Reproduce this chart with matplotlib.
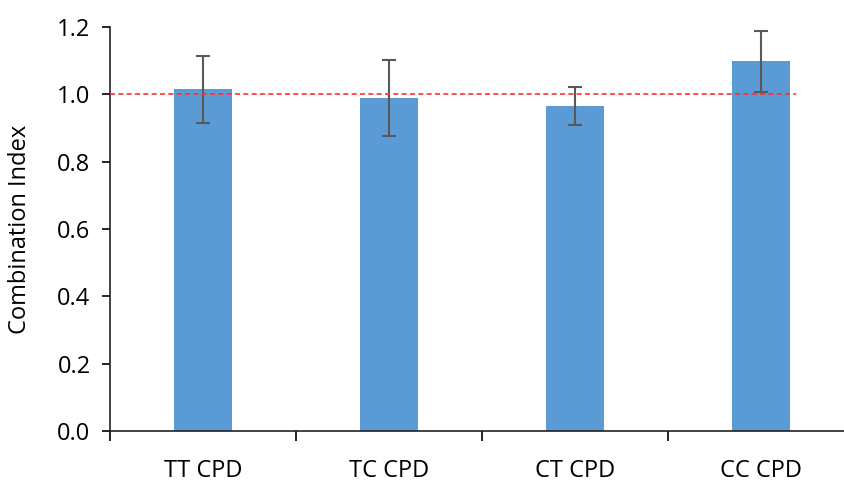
import matplotlib.pyplot as plt
import numpy as np

categories = ["TT CPD", "TC CPD", "CT CPD", "CC CPD"]
ci_values = [1.015, 0.990, 0.965, 1.098]
ci_errors = [0.100, 0.113, 0.056, 0.091]
reference_ci = 1.0
y_ticks = [0.0, 0.2, 0.4, 0.6, 0.8, 1.0, 1.2]

plt.rcParams['font.family'] = ['Open Sans', 'DejaVu Sans']

fig = plt.figure(figsize=(8.45, 4.82), dpi=100)
ax = fig.add_axes([110 / 845, 51 / 482, 744 / 845, 404 / 482])

x = np.arange(len(categories))
ax.bar(x, ci_values, width=0.315, color="#5B9BD5", zorder=2)
ax.errorbar(x, ci_values, yerr=ci_errors, fmt="none", ecolor="#595959",
            elinewidth=1.5, capsize=5, capthick=1.5, zorder=3)

# reference line at CI = 1
ax.plot([-0.5, 3.19], [reference_ci, reference_ci], color="#FF3030",
        linestyle=(0, (3, 2)), linewidth=1.2, zorder=4)

ax.set_xlim(-0.5, len(categories) - 0.5)
ax.set_ylim(0, 1.2)
ax.set_yticks(y_ticks)
ax.set_yticklabels([f"{t:.1f}" for t in y_ticks], fontsize=17)

# category labels between boundary ticks
ax.set_xticks(np.arange(-0.5, len(categories), 1.0))
ax.set_xticklabels([])
ax.set_xticks(x, minor=True)
ax.set_xticklabels(categories, minor=True, fontsize=17)
ax.tick_params(axis="x", which="minor", length=0, pad=20)
ax.tick_params(axis="x", which="major", length=7, width=1.2, direction="out")
ax.tick_params(axis="y", length=6, width=1.2, direction="out", pad=8)

for side in ["top", "right"]:
    ax.spines[side].set_visible(False)
for side in ["left", "bottom"]:
    ax.spines[side].set_linewidth(1.2)
    ax.spines[side].set_color("#222222")

ax.set_ylabel("Combination Index", fontsize=17, labelpad=18)

fig.savefig("out.png", dpi=100)
